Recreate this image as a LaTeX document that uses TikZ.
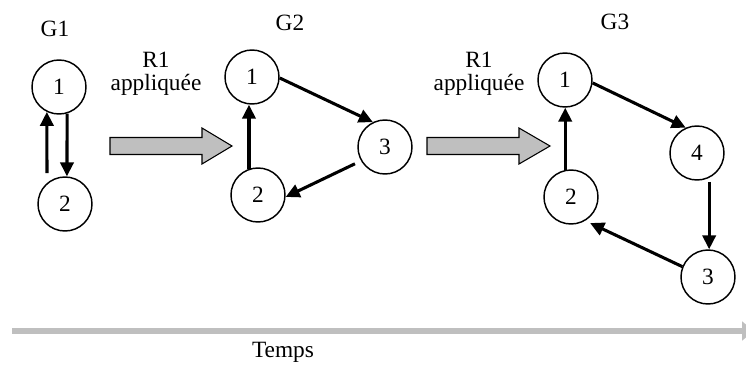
\documentclass[tikz,border=0pt]{standalone}
\usepackage{fontspec}
\setmainfont{Liberation Serif}
\usetikzlibrary{arrows.meta}

\tikzset{
  etat/.style={circle, draw, line width=1.1pt, minimum size=40.5pt, inner sep=0pt},
  fleche/.style={-{Triangle[length=10.5pt,width=10pt]}, line width=2.3pt},
  bloc/.style={fill=gray!50, draw=black, line width=0.8pt},
  axe/.style={line width=4.5pt, draw=gray!50, -{Triangle[length=9pt,width=14pt]}}
}

\begin{document}
\begin{tikzpicture}[x=0.75pt, y=-0.75pt, font=\fontsize{17.5}{17.25}\selectfont]
    \useasboundingbox (0,0) rectangle (746,369);

    % G1
    \node (lg1) at (55,29) {G1};
    \node[etat] (g1n1) at (59,87) {1};
    \node[etat] (g1n2) at (65,204) {2};
    \coordinate (g1t) at (47,173);
    \draw[fleche] (g1t) -- (g1n1.-116);
    \draw[fleche] (g1n1.-73) -- (g1n2.86);

    % regle appliquee
    \node[align=center] (r1a) at (156,74) {R1\\appliquée};
    \filldraw[bloc] (110,137.5) -- (202,137.5) -- (202,128) -- (232,146)
        -- (202,164) -- (202,154.5) -- (110,154.5) -- cycle;

    % G2
    \node (lg2) at (290,23) {G2};
    \node[etat] (g2n1) at (252,77) {1};
    \node[etat] (g2n2) at (258,195) {2};
    \node[etat] (g2n3) at (385,147) {3};
    \draw[fleche] (g2n2.109) -- (g2n2.109 |- g2n1.south);
    \draw[fleche] (g2n1.-2) -- (g2n3.116);
    \draw[fleche, shorten <=5pt] (g2n3.210) -- (g2n2.-4);

    % regle appliquee
    \node[align=center] (r1b) at (479,74) {R1\\appliquée};
    \filldraw[bloc] (427,137.5) -- (519,137.5) -- (519,128) -- (550,146)
        -- (519,164) -- (519,154.5) -- (427,154.5) -- cycle;

    % G3
    \node (lg3) at (615,22) {G3};
    \node[etat] (g3n1) at (565,80) {1};
    \node[etat] (g3n2) at (571,197) {2};
    \node[etat] (g3n3) at (708,277) {3};
    \node[etat] (g3n4) at (697,153) {4};
    \draw[fleche] (g3n2.102) -- (g3n2.102 |- g3n1.south);
    \draw[fleche] (g3n1.-6) -- (g3n4.114);
    \draw[fleche, shorten <=3pt] (g3n4.-64) -- (g3n4.-64 |- g3n3.north);
    \draw[fleche, shorten >=4pt] (g3n3.158) -- (g3n2.-59);

    % temps
    \coordinate (t0) at (12,331);
    \coordinate (t1) at (754,331);
    \draw[axe] (t0) -- (t1);
    \node (temps) at (283,352) {Temps};
\end{tikzpicture}
\end{document}
